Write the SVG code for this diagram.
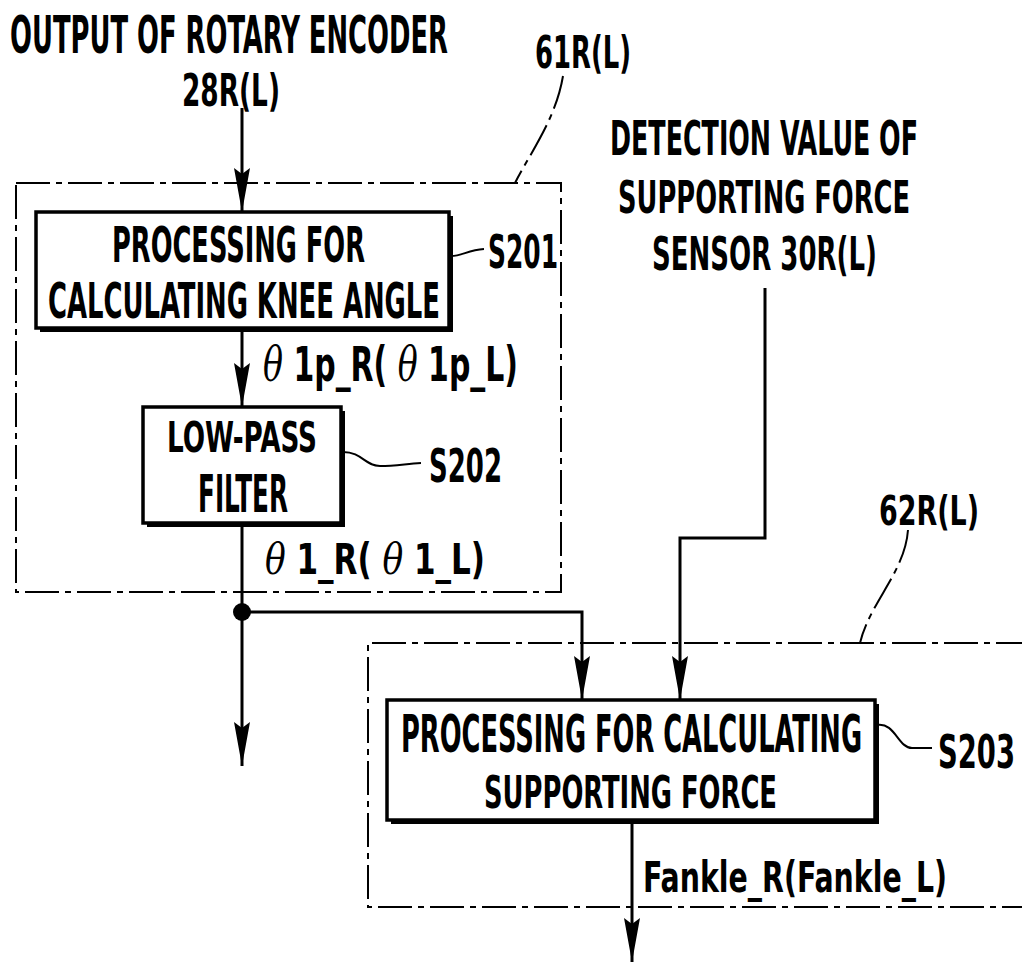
<svg xmlns="http://www.w3.org/2000/svg" width="1022" height="964" viewBox="0 0 1022 964">
<style>
.t{font-family:"DejaVu Sans Condensed","DejaVu Sans","Liberation Sans",sans-serif;font-weight:bold;font-size:28px;fill:#000}
.th{font-family:"DejaVu Serif","Liberation Serif",serif;font-style:italic;font-weight:normal}
.box{fill:#fff;stroke:#000;stroke-width:3.5}
.shadow{fill:#000}
.dash{fill:none;stroke:#000;stroke-width:2;stroke-dasharray:34 6 6 6}
.wire{fill:none;stroke:#000;stroke-width:3}
.lead{fill:none;stroke:#000;stroke-width:2}
</style>
<defs>
<marker id="ah" markerUnits="userSpaceOnUse" markerWidth="46" markerHeight="18" refX="44" refY="8" orient="auto" viewBox="0 0 46 16">
<path d="M0,0 L44,8 L0,16 L6,8 z" fill="#000"/>
</marker>
</defs>
<rect width="1022" height="964" fill="#fff"/>

<g id="labels">
<text class="t" x="10" y="53" font-size="28.4" transform="matrix(1,0,0,1.84,0,-44.52)" textLength="438" lengthAdjust="spacingAndGlyphs">OUTPUT OF ROTARY ENCODER</text>
<text class="t" x="182" y="106" font-size="29" transform="matrix(1,0,0,1.56,0,-59.36)" textLength="98" lengthAdjust="spacingAndGlyphs">28R(L)</text>
<text class="t" x="610" y="155" font-size="26.8" transform="matrix(1,0,0,1.69,0,-106.95)" textLength="308" lengthAdjust="spacingAndGlyphs">DETECTION VALUE OF</text>
<text class="t" x="618" y="213" font-size="28.6" transform="matrix(1,0,0,1.58,0,-123.54)" textLength="292" lengthAdjust="spacingAndGlyphs">SUPPORTING FORCE</text>
<text class="t" x="652" y="270" font-size="27.4" transform="matrix(1,0,0,1.65,0,-175.5)" textLength="225" lengthAdjust="spacingAndGlyphs">SENSOR 30R(L)</text>
</g>

<g id="group61">
<rect class="dash" x="16" y="183" width="545" height="409"/>
<path class="dash" d="M563,76 C556,118 532,150 515,183"/>
<text class="t" x="535" y="68" font-size="28.6" transform="matrix(1,0,0,1.58,0,-39.44)" textLength="96" lengthAdjust="spacingAndGlyphs">61R(L)</text>
</g>

<g id="group62">
<path class="dash" d="M1030,643 L368,643 L368,907 L1030,907"/>
<path class="dash" d="M908,530 C905,572 870,602 860,643"/>
<text class="t" x="879" y="525" font-size="29.8" transform="matrix(1,0,0,1.43,0,-225.75)" textLength="100" lengthAdjust="spacingAndGlyphs">62R(L)</text>
</g>

<g id="s201">
<rect class="shadow" x="40" y="216" width="413" height="116"/>
<rect class="box" x="36" y="212" width="413" height="116"/>
<text class="t" x="112" y="262" font-size="28.2" transform="matrix(1,0,0,1.8,0,-209.6)" textLength="253" lengthAdjust="spacingAndGlyphs">PROCESSING FOR</text>
<text class="t" x="48" y="318" font-size="27.8" transform="matrix(1,0,0,1.78,0,-248.04)" textLength="392" lengthAdjust="spacingAndGlyphs">CALCULATING KNEE ANGLE</text>
<path class="lead" d="M451,256 C462,256 468,250 484,249"/>
<text class="t" x="488" y="268" font-size="27.6" transform="matrix(1,0,0,1.64,0,-171.52)" textLength="70" lengthAdjust="spacingAndGlyphs">S201</text>
</g>

<g id="s202">
<rect class="shadow" x="147" y="411" width="198" height="116"/>
<rect class="box" x="143" y="407" width="198" height="116"/>
<text class="t" x="167" y="452" font-size="29.3" transform="matrix(1,0,0,1.55,0,-248.6)" textLength="150" lengthAdjust="spacingAndGlyphs">LOW-PASS</text>
<text class="t" x="198" y="512" font-size="26.2" transform="matrix(1,0,0,1.83,0,-424.96)" textLength="90" lengthAdjust="spacingAndGlyphs">FILTER</text>
<path class="lead" d="M343,452 C362,452 365,466 380,466 C395,466 405,464 421,463"/>
<text class="t" x="429" y="482" font-size="28.7" transform="matrix(1,0,0,1.67,0,-322.94)" textLength="73" lengthAdjust="spacingAndGlyphs">S202</text>
</g>

<g id="s203">
<rect class="shadow" x="391" y="704" width="488" height="120"/>
<rect class="box" x="387" y="700" width="488" height="120"/>
<text class="t" x="401" y="752" font-size="27.7" transform="matrix(1,0,0,1.83,0,-624.16)" textLength="461" lengthAdjust="spacingAndGlyphs">PROCESSING FOR CALCULATING</text>
<text class="t" x="484" y="808" font-size="28.7" transform="matrix(1,0,0,1.58,0,-468.64)" textLength="293" lengthAdjust="spacingAndGlyphs">SUPPORTING FORCE</text>
<path class="lead" d="M877,725 C895,722 898,748 912,748 L932,748"/>
<text class="t" x="938" y="768" font-size="30.3" transform="matrix(1,0,0,1.67,0,-514.56)" textLength="77" lengthAdjust="spacingAndGlyphs">S203</text>
</g>

<g id="signal-labels">
<text class="t" x="263" y="381" font-size="30.4" transform="matrix(1,0,0,1.71,0,-270.51)" textLength="255" lengthAdjust="spacingAndGlyphs"><tspan class="th">θ</tspan> 1p_R( <tspan class="th">θ</tspan> 1p_L)</text>
<text class="t" x="265" y="574" font-size="30" transform="matrix(1,0,0,1.55,0,-315.7)" textLength="220" lengthAdjust="spacingAndGlyphs"><tspan class="th">θ</tspan> 1_R( <tspan class="th">θ</tspan> 1_L)</text>
<text class="t" x="643" y="892" font-size="31" transform="matrix(1,0,0,1.55,0,-490.6)" textLength="304" lengthAdjust="spacingAndGlyphs">Fankle_R(Fankle_L)</text>
</g>

<g id="connectors">
<line class="wire" x1="242" y1="108" x2="242" y2="212" marker-end="url(#ah)"/>
<line class="wire" x1="242" y1="328" x2="242" y2="407" marker-end="url(#ah)"/>
<line class="wire" x1="242" y1="523" x2="242" y2="766" marker-end="url(#ah)"/>
<path class="wire" d="M242,612 L582,612 L582,700" marker-end="url(#ah)"/>
<path class="wire" d="M765,288 L765,538 L680,538 L680,700" marker-end="url(#ah)"/>
<line class="wire" x1="632" y1="820" x2="632" y2="962" marker-end="url(#ah)"/>
<circle cx="242" cy="612" r="9" fill="#000"/>
</g>
</svg>
